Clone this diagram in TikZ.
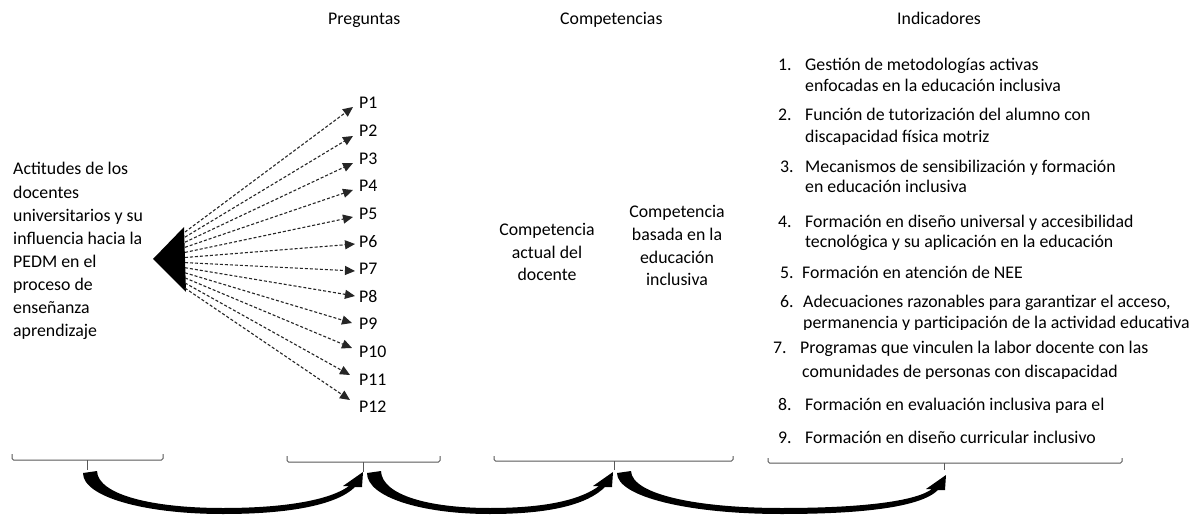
\documentclass[tikz,border=0pt]{standalone}
\usepackage{fontspec}
\setmainfont{Carlito}
\usetikzlibrary{arrows.meta}
\newcommand\bendarrow[3]{% tail x, tip x, tip y
  \fill (#1,473) .. controls (#1,497) and ({#1+0.22*(#2-#1)},514) .. ({#1+0.5*(#2-#1)},514)
    .. controls ({#1+0.75*(#2-#1)},514) and ({#2-25},{#3+32}) .. ({#2-8},{#3+15})
    -- ({#2-1},{#3+15}) -- (#2,#3) -- ({#2-20},{#3+14}) -- ({#2-14},{#3+14})
    .. controls ({#2-30},{#3+26}) and ({#1+0.75*(#2-#1)},508) .. ({#1+0.5*(#2-#1)},508)
    .. controls ({#1+0.25*(#2-#1)},508) and ({#1+15},495) .. ({#1+14},471) -- cycle;}
\begin{document}
\begin{tikzpicture}[x=1pt,y=-1pt,
  txt/.style={inner sep=0pt, anchor=base west, font=\fontsize{17.8}{21}\selectfont, text=black},
  ctxt/.style={txt, anchor=base},
  dasharrow/.style={draw=black!85, line width=1.1pt, dash pattern=on 3pt off 2pt, -{Triangle[length=10pt,width=9pt]}},
  bracketline/.style={draw=black!65, line width=1pt, rounded corners=1.5pt}]
\useasboundingbox (0,0) rectangle (1200,516);
\fill[white] (0,0) rectangle (1200,516);

% titles
\node[txt] (tPreg) at (328,25) {Preguntas};
\node[txt] (tComp) at (560,25) {Competencias};
\node[txt] (tInd) at (897,25) {Indicadores};

% left text
\foreach \t [count=\i] in {Actitudes de los, docentes, universitarios y su, influencia hacia la, PEDM en el, proceso de, enseñanza, aprendizaje}{
  \node[txt] (act\i) at (13,{175+23.14*(\i-1)}) {\t};
}

% triangle
\fill (153,259) -- (184,227) -- (186,292) -- cycle;

% P labels and dashed arrows
\foreach \i in {1,...,12}{
  \node[txt] (p\i) at (359,{109+27.6*(\i-1)}) {P\i};
}
\foreach \i/\ty/\tx in {1/107/353,2/136/353,3/163/353,4/190/353,5/217/353,6/244/355,7/271/355,8/296/355,9/323/352,10/348/352,11/375/350,12/400/350}{
  \coordinate (s\i) at (185,{232+5.1*(\i-1)});
  \coordinate (t\i) at (\tx,\ty);
  \draw[dasharrow] (s\i) -- (t\i);
}

% competencias
\foreach \t/\y [count=\i] in {Competencia/235, actual del/258, docente/280}{
  \node[ctxt] (ca\i) at (547,\y) {\t};
}
\foreach \t/\y [count=\i] in {Competencia/218, basada en la/240.5, educación/263, inclusiva/285.5}{
  \node[ctxt] (cb\i) at (677,\y) {\t};
}

% indicadores
\node[txt] (n1) at (778,71) {1.};
\node[txt] (i1a) at (805,71) {Gestión de metodologías activas};
\node[txt] (i1b) at (805,92) {enfocadas en la educación inclusiva};
\node[txt] (n2) at (778,121) {2.};
\node[txt] (i2a) at (805,121) {Función de tutorización del alumno con};
\node[txt] (i2b) at (805,143) {discapacidad física motriz};
\node[txt] (n3) at (780,172) {3.};
\node[txt] (i3a) at (805,172) {Mecanismos de sensibilización y formación};
\node[txt] (i3b) at (805,193) {en educación inclusiva};
\node[txt] (n4) at (778,227) {4.};
\node[txt] (i4a) at (805,227) {Formación en diseño universal y accesibilidad};
\node[txt] (i4b) at (805,247) {tecnológica y su aplicación en la educación};
\node[txt] (n5) at (780,278) {5.};
\node[txt] (i5a) at (802,278) {Formación en atención de NEE};
\node[txt] (n6) at (780,307) {6.};
\node[txt] (i6a) at (803,307) {Adecuaciones razonables para garantizar el acceso,};
\begin{scope}
  \clip (790,310) rectangle (1200,329);
  \node[txt] (i6b) at (803,328) {permanencia y participación de la actividad educativa};
\end{scope}
\node[txt] (n7) at (773,353) {7.};
\node[txt] (i7a) at (800,353) {Programas que vinculen la labor docente con las};
\begin{scope}
  \clip (790,358) rectangle (1200,378);
  \node[txt] (i7b) at (802,377) {comunidades de personas con discapacidad};
\end{scope}
\node[txt] (n8) at (778,410) {8.};
\node[txt] (i8a) at (805,410) {Formación en evaluación inclusiva para el};
\node[txt] (n9) at (778,443) {9.};
\node[txt] (i9a) at (805,443) {Formación en diseño curricular inclusivo};

% brackets
\draw[bracketline] (12,454) -- (12,460) -- (163,460) -- (163,454);
\draw[bracketline] (87,460) -- (87,470);
\draw[bracketline] (287,456) -- (287,462) -- (440,462) -- (440,456);
\draw[bracketline] (363,462) -- (363,472);
\draw[bracketline] (494,456) -- (494,461) -- (733,461) -- (733,456);
\draw[bracketline] (614,461) -- (614,470);
\draw[bracketline] (768,458) -- (768,463) -- (1122,463) -- (1122,458);
\draw[bracketline] (944,463) -- (944,470);

% curved arrows
\bendarrow{83}{363}{472}
\bendarrow{367}{613}{472}
\bendarrow{617}{946}{475}
\end{tikzpicture}
\end{document}
